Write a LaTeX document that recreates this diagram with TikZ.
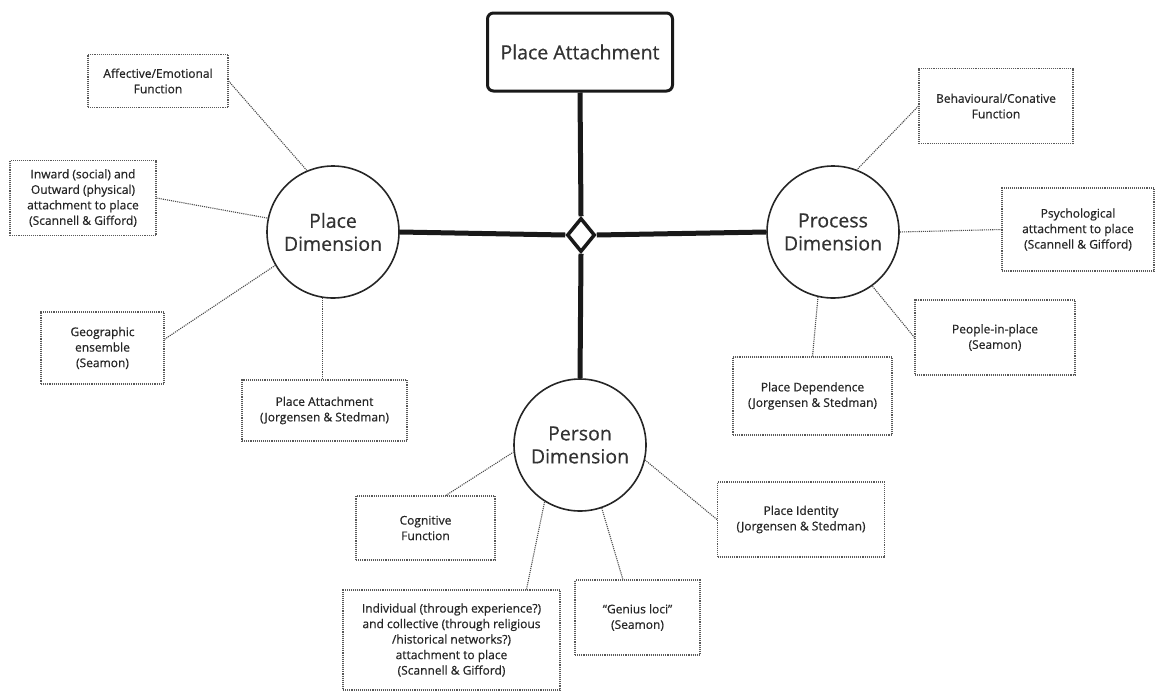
\documentclass[tikz,border=0pt]{standalone}
\usepackage{fontspec}
\setmainfont{Open Sans}[BoldFont={Open Sans},BoldFeatures={FakeBold=0.5}]
\usepackage{tikz}
\usetikzlibrary{shapes.geometric}
\tikzset{
  dim/.style={circle,draw=black!85,line width=1.6pt,fill=white,minimum size=132pt,inner sep=0pt,align=center,text=black!80,font=\fontsize{19.5}{23}\selectfont\bfseries},
  src/.style={draw=black!65,densely dotted,line width=1.1pt,fill=white,align=center,inner sep=2pt,text=black!85,font=\fontsize{12}{15.5}\selectfont\bfseries},
  pab/.style={draw=black!90,line width=3pt,rounded corners=6pt,fill=white,align=center,text=black!80,font=\fontsize{19.5}{23}\selectfont\bfseries},
  hubs/.style={diamond,draw=black!90,line width=3.5pt,fill=white,inner sep=0pt,minimum width=28pt,minimum height=34pt},
  spk/.style={draw=black!90,line width=5pt},
  lnk/.style={draw=black!70,densely dotted,line width=1.1pt},
}
\begin{document}
\begin{tikzpicture}[x=1pt,y=-1pt]
  \useasboundingbox (0,0) rectangle (1155,691);
  % core
  \node[pab,minimum width=185pt,minimum height=78pt] (pa) at (580,52) {Place Attachment};
  \node[hubs] (hub) at (581,235) {};
  \node[dim] (pd) at (333,232) {Place\\Dimension};
  \node[dim] (proc) at (833,232) {Process\\Dimension};
  \node[dim] (per) at (580,445) {Person\\Dimension};
  \draw[spk] (pa.south) -- (hub.north);
  \draw[spk] (hub.west) -- (pd.east);
  \draw[spk] (hub.east) -- (proc.west);
  \draw[spk] (hub.south) -- (per.north);
  % place dimension
  \node[src,minimum width=140pt,minimum height=53pt] (aff) at (158,81) {Affective/Emotional\\Function};
  \node[src,minimum width=146pt,minimum height=75pt] (inw) at (83,198) {Inward (social) and\\Outward (physical)\\attachment to place\\(Scannell \& Gifford)};
  \node[src,minimum width=123pt,minimum height=72pt] (geo) at (102.5,348) {Geographic\\ensemble\\(Seamon)};
  \node[src,minimum width=165pt,minimum height=61pt] (pajs) at (324.5,410.5) {Place Attachment\\(Jorgensen \& Stedman)};
  \draw[lnk] (aff.east) -- (pd.113);
  \draw[lnk] (inw.east) -- (pd.168);
  \draw[lnk] (geo.8) -- (pd.210);
  \draw[lnk] (pd.261) -- (pd.261 |- pajs.north);
  % process dimension
  \node[src,minimum width=154pt,minimum height=75pt] (beh) at (996,106) {Behavioural/Conative\\Function};
  \node[src,minimum width=152pt,minimum height=83pt] (psy) at (1078,229.5) {Psychological\\attachment to place\\(Scannell \& Gifford)};
  \node[src,minimum width=160pt,minimum height=75pt] (ppl) at (995,337.5) {People-in-place\\(Seamon)};
  \node[src,minimum width=159pt,minimum height=78pt] (pdep) at (812.5,396) {Place Dependence\\(Jorgensen \& Stedman)};
  \draw[lnk] (beh.west) -- (proc.69);
  \draw[lnk] (proc.east) -- (psy.west);
  \draw[lnk] (ppl.west) -- (proc.-54);
  \draw[lnk] (pdep.north) -- (proc.257);
  % person dimension
  \node[src,minimum width=139pt,minimum height=64pt] (cog) at (425.5,528) {Cognitive\\Function};
  \node[src,minimum width=217pt,minimum height=100pt] (ind) at (451.5,640) {Individual (through experience?)\\and collective (through religious\\/historical networks?)\\attachment to place\\(Scannell \& Gifford)};
  \node[src,minimum width=125pt,minimum height=75pt] (gen) at (637.5,617.5) {``Genius loci''\\(Seamon)};
  \node[src,minimum width=167pt,minimum height=75pt] (pid) at (801,519.5) {Place Identity\\(Jorgensen \& Stedman)};
  \draw[lnk] (cog.58) -- (per.186);
  \draw[lnk] (ind.34) -- (per.238);
  \draw[lnk] (gen.111) -- (per.289);
  \draw[lnk] (pid.west) -- (per.347);
\end{tikzpicture}
\end{document}
